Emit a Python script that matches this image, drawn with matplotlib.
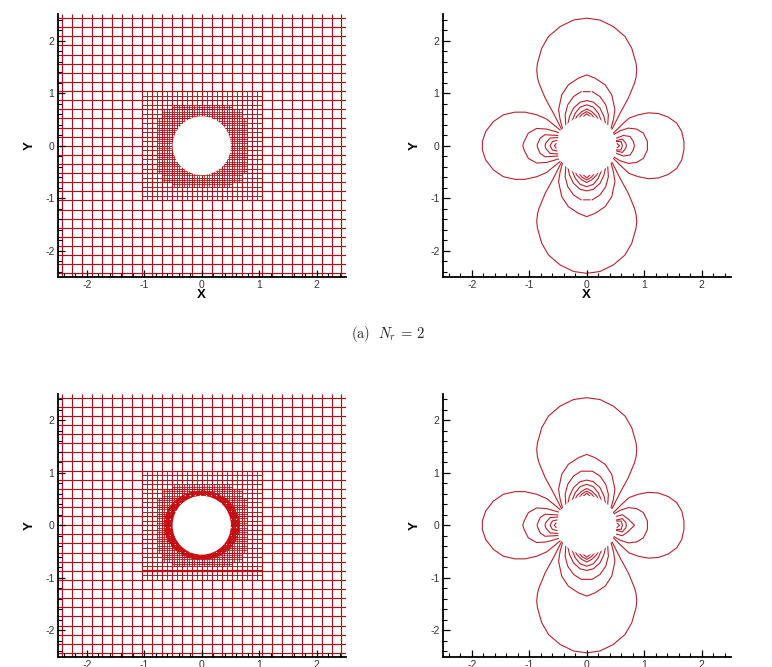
import numpy as np
import matplotlib
matplotlib.use('Agg')
import matplotlib.pyplot as plt
from matplotlib.patches import Ellipse

plt.rcParams['font.family'] = ['Liberation Sans', 'DejaVu Sans']
plt.rcParams['mathtext.fontset'] = 'cm'
plt.rcParams['axes.unicode_minus'] = False

# Mesh line positions (positive half, mesh is symmetric about both axes)
coarse_lines = [0.0, 0.1736, 0.3472, 0.5208, 0.6944, 0.868, 1.0416, 1.2152,
                1.3888, 1.5624, 1.736, 1.9096, 2.0832, 2.2568, 2.4304]
level1_lines = [0.0868, 0.2604, 0.434, 0.6076, 0.7812, 0.9548]
level1_extent = 1.0416
level2_lines = [0.0434, 0.1302, 0.217, 0.3038, 0.3906, 0.4774, 0.5642, 0.651, 0.7378]
level2_extent = [0.7812, 0.7812, 0.7812, 0.7812, 0.7812, 0.7812, 0.6944, 0.6944, 0.5208]
level3_lines = [0.0217, 0.0651, 0.1085, 0.1519, 0.1953, 0.2387, 0.2821, 0.3255,
                0.3689, 0.4123, 0.4557, 0.4991, 0.5425, 0.5859, 0.6293, 0.6727]
level3_radius = 0.66
extra_line_y = -0.868

circle_rx = 0.507
circle_ry = 0.56

# Contour lobes, first quadrant for the vertical ones
top_outer = ([0.0, 0.23, 0.463, 0.666, 0.783, 0.857, 0.87, 0.857, 0.83, 0.723, 0.58, 0.463, 0.44],
             [2.43, 2.395, 2.27, 2.08, 1.857, 1.572, 1.445, 1.30, 1.19, 0.907, 0.62, 0.367, 0.32])
top_2 = ([0.0, 0.145, 0.32, 0.435, 0.49, 0.463, 0.423],
         [1.35, 1.287, 1.16, 0.97, 0.685, 0.494, 0.336])
top_3_gap = ([0.0, 0.057, np.nan, 0.097, 0.23, 0.33, 0.376, 0.365],
             [1.03, 1.03, np.nan, 1.03, 0.937, 0.78, 0.59, 0.40])
top_3 = ([0.0, 0.097, 0.23, 0.33, 0.376, 0.365],
         [1.03, 1.03, 0.937, 0.78, 0.59, 0.40])
top_4 = ([0.0, 0.115, 0.23, 0.30, 0.33], [0.86, 0.83, 0.717, 0.557, 0.40])
top_5 = ([0.0, 0.115, 0.20, 0.26], [0.78, 0.735, 0.62, 0.46])
top_6 = ([0.0, 0.087, 0.174, 0.214], [0.70, 0.65, 0.557, 0.46])
top_7 = ([0.0, 0.08, 0.144], [0.65, 0.60, 0.513])
top_8 = ([0.0, 0.057, 0.097], [0.61, 0.557, 0.494])

right_outer = ([0.463, 0.61, 0.736, 0.897, 1.07, 1.245, 1.42, 1.565, 1.652, 1.69, 1.69],
               [0.24, 0.40, 0.527, 0.59, 0.627, 0.614, 0.546, 0.43, 0.272, 0.08, 0.0])
right_2 = ([0.463, 0.58, 0.723, 0.87, 0.985, 1.055, 1.055],
           [0.21, 0.285, 0.336, 0.317, 0.24, 0.08, 0.0])
right_3 = ([0.52, 0.637, 0.753, 0.81, 0.83], [0.146, 0.196, 0.177, 0.08, 0.0])
right_3_sharp = ([0.52, 0.62, 0.72, 0.83], [0.17, 0.20, 0.12, 0.0])
right_4 = ([0.52, 0.62, 0.678, 0.69], [0.10, 0.127, 0.05, 0.0])
right_5 = ([0.52, 0.597, 0.62], [0.08, 0.08, 0.0])
right_6 = ([0.53, 0.57], [0.04, 0.0])

left_outer = ([-0.464, -0.696, -0.87, -1.073, -1.247, -1.45, -1.624, -1.757, -1.816, -1.816],
              [0.30, 0.507, 0.59, 0.64, 0.64, 0.59, 0.46, 0.272, 0.08, 0.0])
left_2 = ([-0.494, -0.696, -0.87, -1.016, -1.09, -1.113],
          [0.253, 0.317, 0.33, 0.24, 0.08, 0.0])
left_3 = ([-0.504, -0.725, -0.81, -0.86, -0.86], [0.196, 0.21, 0.146, 0.02, 0.0])
left_4 = ([-0.504, -0.638, -0.713, -0.725], [0.156, 0.146, 0.05, 0.0])
left_5 = ([-0.52, -0.597, -0.638], [0.10, 0.08, 0.0])
left_6 = ([-0.534, -0.563], [0.04, 0.0])

major_ticks = [-2, -1, 0, 1, 2]
major_labels = ['-2', '-1', '0', '1', '2']
minor_ticks = [-2.4, -2.2, -1.8, -1.6, -1.4, -1.2, -0.8, -0.6, -0.4, -0.2,
               0.2, 0.4, 0.6, 0.8, 1.2, 1.4, 1.6, 1.8, 2.2, 2.4]

MESH_RED = '#a8101a'
FINE_RED = '#bb1a22'
LINE_RED = '#b8222c'
W, H = 772, 667


def add_panel(fig, left, top, right, bottom, show_x):
    ax = fig.add_axes([left / W, 1 - bottom / H, (right - left) / W, (bottom - top) / H])
    ax.set_xlim(-2.5, 2.5)
    ax.set_ylim(-2.5, 2.5)
    ax.spines['top'].set_visible(False)
    ax.spines['right'].set_visible(False)
    ax.spines['left'].set_linewidth(1.3)
    ax.spines['bottom'].set_linewidth(1.3)
    ax.set_axisbelow(False)
    ax.set_xticks(major_ticks, major_labels)
    ax.set_yticks(major_ticks, major_labels)
    ax.set_xticks(minor_ticks, minor=True)
    ax.set_yticks(minor_ticks, minor=True)
    ax.tick_params(which='major', direction='in', length=4.8, width=0.9, labelsize=7.5,
                   pad=2.5, labelcolor='#333333')
    ax.tick_params(which='minor', direction='in', length=3, width=0.8)
    ax.set_ylabel('Y', fontweight='bold', fontsize=9.5, va='center')
    ax.yaxis.set_label_coords(-28.5 / (right - left), 0.5)
    if show_x:
        ax.set_xlabel('X', fontweight='bold', fontsize=9.5, va='center')
        ax.xaxis.set_label_coords(0.5, -18 / (bottom - top))
    return ax


def mirrored(values):
    values = np.asarray(values)
    return np.concatenate([-values, values])


def draw_mesh(ax, finest=False):
    lines = np.array(coarse_lines)
    lines = np.concatenate([-lines[1:], lines])
    ax.vlines(lines, -2.5, 2.5, color=MESH_RED, lw=0.85, zorder=2)
    ax.hlines(lines, -2.5, 2.5, color=MESH_RED, lw=0.85, zorder=2)

    l1 = mirrored(level1_lines)
    ax.vlines(l1, -level1_extent, level1_extent, color=FINE_RED, lw=0.7, zorder=2)
    ax.hlines(l1, -level1_extent, level1_extent, color=FINE_RED, lw=0.7, zorder=2)

    l2 = mirrored(level2_lines)
    ext = np.concatenate([level2_extent, level2_extent])
    ax.vlines(l2, -ext, ext, color=FINE_RED, lw=0.6, zorder=2)
    ax.hlines(l2, -ext, ext, color=FINE_RED, lw=0.6, zorder=2)

    if finest:
        # the refined ring round the cylinder, dense enough to read as solid
        ring = Ellipse((0, 0), 2 * level3_radius, 2 * level3_radius,
                       transform=ax.transData, fill=False, lw=0)
        ax.add_patch(ring)
        l3 = mirrored(level3_lines)
        vl = ax.vlines(l3, -1, 1, color='#cc0a10', lw=0.8, zorder=2)
        hl = ax.hlines(l3, -1, 1, color='#cc0a10', lw=0.8, zorder=2)
        vl.set_clip_path(ring)
        hl.set_clip_path(ring)
        ax.hlines(extra_line_y, -level1_extent, level1_extent, color='#c00a12', lw=1.6, zorder=2)

    ax.add_patch(Ellipse((0, 0), 2 * circle_rx, 2 * circle_ry, fc='white', ec='none', zorder=3))


def draw_vertical_lobe(ax, lobe):
    x, y = np.array(lobe[0]), np.array(lobe[1])
    for sign in (1, -1):
        ax.plot(np.r_[-x[::-1], x], sign * np.r_[y[::-1], y], color=LINE_RED, lw=0.8, zorder=2)


def draw_side_lobe(ax, lobe):
    x, y = np.array(lobe[0]), np.array(lobe[1])
    ax.plot(np.r_[x, x[::-1]], np.r_[y, -y[::-1]], color=LINE_RED, lw=0.8, zorder=2)


def draw_contours(ax, third, right_third):
    for lobe in [top_outer, top_2, third, top_4, top_5, top_6, top_7, top_8]:
        draw_vertical_lobe(ax, lobe)
    for lobe in [right_outer, right_2, right_third, right_4, right_5, right_6,
                 left_outer, left_2, left_3, left_4, left_5, left_6]:
        draw_side_lobe(ax, lobe)
    ax.add_patch(Ellipse((0, 0), 2 * circle_rx, 2 * circle_ry, fc='white', ec='none', zorder=3))


fig = plt.figure(figsize=(W / 100, H / 100), dpi=100)

ax1 = add_panel(fig, 58, 14.5, 345.5, 277, True)
draw_mesh(ax1)
ax2 = add_panel(fig, 443, 14.5, 730.5, 277, True)
draw_contours(ax2, top_3_gap, right_3)

ax3 = add_panel(fig, 58, 394, 345.5, 656.5, False)
draw_mesh(ax3, finest=True)
ax4 = add_panel(fig, 443, 394, 730.5, 656.5, False)
draw_contours(ax4, top_3, right_3_sharp)

fig.text(388 / W, 1 - 334 / H, r'$\mathrm{(a)}\ \ N_r\,=\,2$', fontsize=10.5,
         ha='center', va='center', color='#222222')

fig.savefig('out.png', dpi=100)
